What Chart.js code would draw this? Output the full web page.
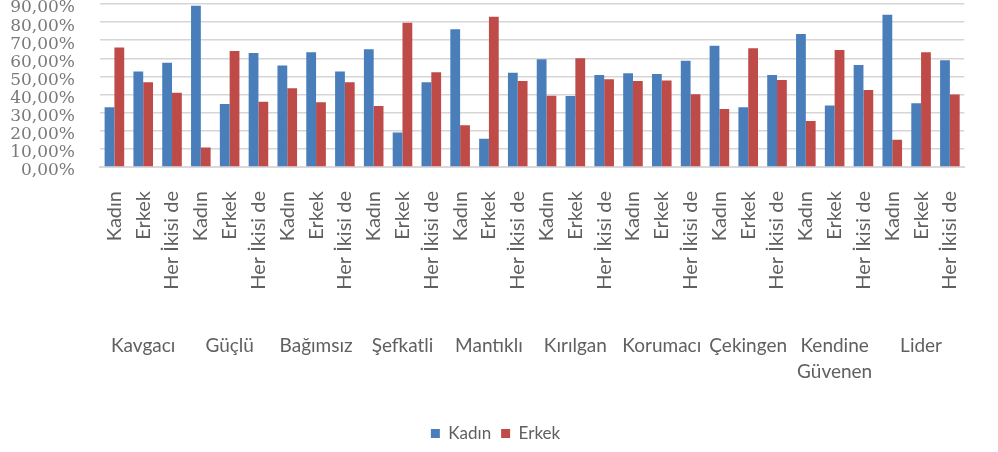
<!DOCTYPE html>
<html>
<head>
<meta charset="utf-8">
<script src="https://cdn.jsdelivr.net/npm/chart.js@4/dist/chart.umd.min.js"></script>
<style>
  html, body { margin: 0; padding: 0; background: #ffffff; }
  #wrap { width: 998px; height: 452px; position: relative; }
</style>
</head>
<body>
<div id="wrap"><canvas id="c" width="998" height="452"></canvas></div>
<script>
const groups = ["Kavgacı", "Güçlü", "Bağımsız", "Şefkatli", "Mantıklı", "Kırılgan", "Korumacı", "Çekingen", ["Kendine", "Güvenen"], "Lider"];
const categories = [
  "Kadın","Erkek","Her İkisi de", "Kadın","Erkek","Her İkisi de",
  "Kadın","Erkek","Her İkisi de", "Kadın","Erkek","Her İkisi de",
  "Kadın","Erkek","Her İkisi de", "Kadın","Erkek","Her İkisi de",
  "Kadın","Erkek","Her İkisi de", "Kadın","Erkek","Her İkisi de",
  "Kadın","Erkek","Her İkisi de", "Kadın","Erkek","Her İkisi de"
];
const kadinValues = [33, 52.7, 57.6, 89, 34.8, 63, 56, 63.4, 52.7, 65, 19, 46.8, 76, 15.6, 52, 59.5, 39.2, 50.8, 51.8, 51.4, 58.6, 66.9, 33, 50.8, 73.5, 34, 56.3, 84, 35.2, 59];
const erkekValues = [66, 46.8, 41, 10.7, 64, 36, 43.5, 35.7, 46.8, 33.7, 79.7, 52.3, 23, 83, 47.5, 39.4, 60, 48.4, 47.5, 47.7, 40.2, 32, 65.6, 48, 25.4, 64.6, 42.5, 15, 63.4, 40];
const yTicks = [0, 10, 20, 30, 40, 50, 60, 70, 80, 90];

const sans = "Lato, 'Open Sans', sans-serif";
const textColor = "#606060";

new Chart(document.getElementById("c"), {
  type: "bar",
  data: {
    labels: categories,
    datasets: [
      { label: "Kadın", data: kadinValues, backgroundColor: "#4A7EBB", borderWidth: 0, barPercentage: 1.0, categoryPercentage: 0.68, xAxisID: "x" },
      { label: "Erkek", data: erkekValues, backgroundColor: "#BE4B48", borderWidth: 0, barPercentage: 1.0, categoryPercentage: 0.68, xAxisID: "x" }
    ]
  },
  options: {
    responsive: false,
    animation: false,
    layout: { padding: { top: 0, right: 7, left: 0, bottom: 0 } },
    plugins: {
      tooltip: { enabled: false },
      legend: {
        position: "bottom",
        labels: {
          font: { family: sans, size: 17 },
          color: textColor,
          boxWidth: 9,
          boxHeight: 9,
          padding: 10
        }
      }
    },
    scales: {
      x: {
        type: "category",
        position: "bottom",
        weight: 1,
        offset: true,
        grid: { display: false, drawTicks: false },
        border: { display: true, color: "#d9d9d9", width: 2 },
        ticks: {
          autoSkip: false,
          minRotation: 90,
          maxRotation: 90,
          padding: 24,
          color: textColor,
          font: { family: sans, size: 20 }
        },
        afterFit: (axis) => { axis.height = 152; }
      },
      x2: {
        type: "category",
        position: "bottom",
        weight: 2,
        labels: groups,
        offset: true,
        grid: { display: false, drawTicks: false },
        border: { display: false },
        ticks: {
          autoSkip: false,
          maxRotation: 0,
          minRotation: 0,
          padding: 14,
          color: textColor,
          font: { family: sans, size: 19, lineHeight: 1.35 }
        },
        afterFit: (axis) => { axis.height = 96; }
      },
      y: {
        min: 0,
        max: 90,
        afterBuildTicks: (axis) => { axis.ticks = yTicks.map(v => ({ value: v })); },
        grid: { color: "#d6d6d6", lineWidth: 1.5, drawTicks: false },
        border: { display: false },
        ticks: {
          autoSkip: false,
          padding: 25,
          labelOffset: 4,
          color: "#7a7a7a",
          font: { family: "'DejaVu Serif', 'Liberation Serif', serif", size: 17 },
          callback: (v) => v.toFixed(2).replace(".", ",") + "%"
        },
        afterFit: (axis) => { axis.width = 100; axis.paddingTop = 4; axis.paddingBottom = 0; }
      }
    }
  }
});
</script>
</body>
</html>
